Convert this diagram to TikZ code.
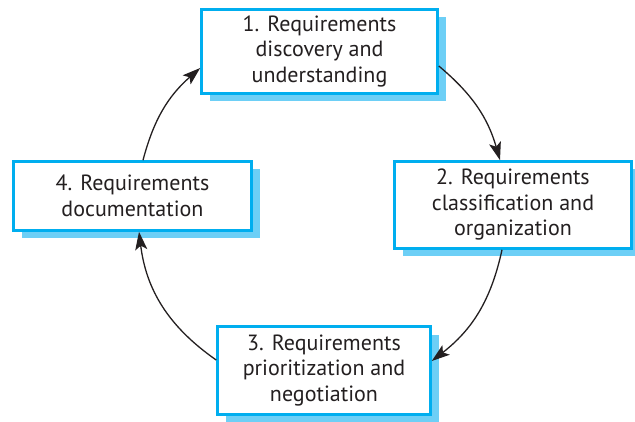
\documentclass[tikz,border=0pt]{standalone}
\usepackage{fontspec}
\setmainfont{PT Sans}
\usetikzlibrary{arrows.meta, shadows}
\definecolor{boxline}{HTML}{00AEEF}
\definecolor{boxshade}{HTML}{6DCFF6}
\definecolor{textgray}{HTML}{231F20}

\begin{document}
\begin{tikzpicture}[x=1pt, y=-1pt,
	stage/.style={draw=boxline, line width=2.6pt, fill=white, align=center, text=textgray,
		font=\fontsize{22}{25.5}\selectfont, inner sep=0pt,
		drop shadow={shadow xshift=8pt, shadow yshift=-8pt, fill=boxshade, opacity=1}},
	flow/.style={-{Stealth[length=18pt, width=12pt, inset=4pt]}, line width=1.3pt, textgray}]
	\useasboundingbox (0,0) rectangle (635,422);
	\node[stage, minimum width=236pt, minimum height=84pt] (discover) at (319.5,51.5) {1. Requirements\\discovery and\\understanding};
	\node[stage, minimum width=237pt, minimum height=87pt] (classify) at (513,205) {2. Requirements\\classification and\\organization};
	\node[stage, minimum width=213pt, minimum height=88pt] (prioritize) at (324,370.5) {3. Requirements\\prioritization and\\negotiation};
	\node[stage, minimum width=238pt, minimum height=69pt] (document) at (132.5,196) {4. Requirements\\documentation};
	\draw[flow] ([yshift=-14.5pt]discover.east) to[bend left=17] ([xshift=-13pt]classify.north);
	\draw[flow] ([xshift=-11pt]classify.south) to[bend left=20] ([yshift=9.5pt]prioritize.east);
	\draw[flow] ([yshift=10.5pt]prioritize.west) to[bend left=24] ([xshift=6.5pt]document.south);
	\draw[flow] ([xshift=10.5pt]document.north) to[bend left=17] ([yshift=-16.5pt]discover.west);
\end{tikzpicture}
\end{document}
